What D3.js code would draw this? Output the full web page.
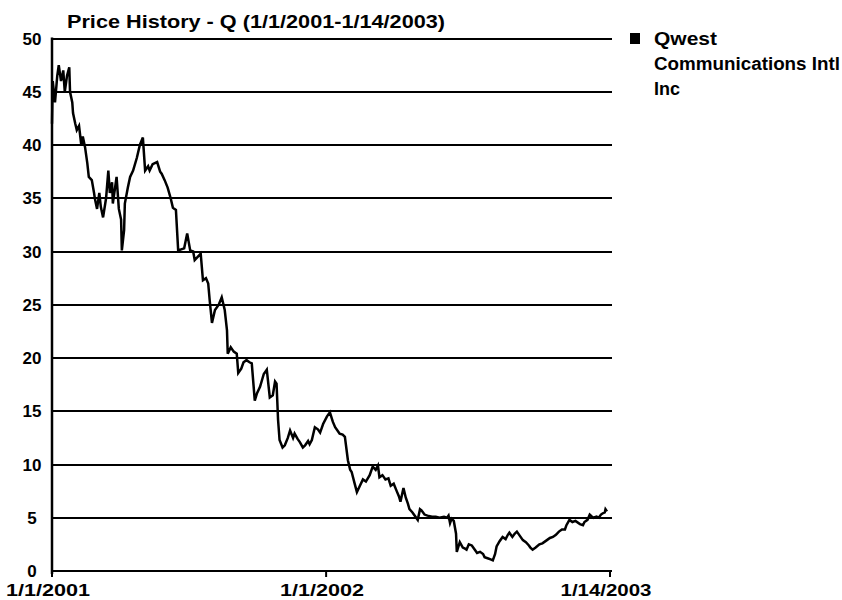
<!DOCTYPE html>
<html lang="en">
<meta charset="utf-8">
<head>
    <title>Price History - Q</title>
    <script src="https://d3js.org/d3.v7.min.js"></script>
    <style type="text/css">
        body {
            margin: 0;
            background-color: white;
        }
        text {
            font-family: "Liberation Sans", Arial, sans-serif;
            font-weight: bold;
            fill: #000;
        }
        .grid line {
            stroke: #000;
            stroke-width: 2;
            shape-rendering: crispEdges;
        }
    </style>
</head>
<body>
<div id="chart"></div>

<script>
// days after 1/1/2001
var dayOffsets = [0, 1, 4, 7, 9, 12, 15, 17, 20, 23, 24, 27, 28, 31, 33, 36, 39, 41, 44, 47,
    49, 53, 56, 57, 60, 63, 65, 68, 72, 75, 77, 80, 81, 84, 86, 89, 92, 93, 96, 97,
    101, 104, 108, 113, 117, 121, 124, 128, 130, 134, 140, 144, 146, 150, 154, 158, 161, 165, 168, 172,
    176, 180, 184, 188, 190, 194, 198, 201, 205, 208, 210, 213, 217, 222, 226, 230, 233, 234, 238, 242,
    246, 248, 252, 255, 259, 263, 266, 270, 273, 277, 282, 286, 290, 294, 297, 299, 301, 303, 307, 310,
    314, 317, 321, 323, 327, 330, 334, 337, 341, 343, 346, 350, 354, 357, 361, 366, 370, 374, 377, 381,
    383, 387, 390, 394, 397, 399, 403, 406, 410, 414, 418, 423, 427, 431, 434, 436, 440, 444, 448, 451,
    455, 459, 462, 464, 468, 471, 474, 476, 480, 484, 487, 490, 492, 496, 500, 506, 511, 516, 522, 526,
    528, 530, 532, 535, 538, 539, 543, 547, 550, 552, 555, 559, 563, 566, 570, 574, 576, 580, 584, 587,
    590, 592, 596, 600, 604, 607, 609, 613, 616, 619, 623, 627, 631, 635, 637, 640, 644, 649, 653, 659,
    663, 667, 671, 675, 679, 683, 685, 689, 693, 697, 703, 707, 709, 713, 716, 719, 721, 725, 728, 731,
    733, 736, 737, 739];

// closing price, dollars
var prices = [42, 46, 44, 46.5, 47.5, 46, 47, 45, 46.5, 47.3, 45, 44, 43, 42, 41.4, 41.8, 40, 40.8, 39.8, 38.3,
    37, 36.7, 35.5, 35, 34, 35.5, 34.2, 33.2, 35, 37.6, 35.5, 36.5, 34.5, 36, 37, 34, 33, 30.1, 32, 34.5,
    36, 37, 37.6, 38.8, 40, 40.7, 37.6, 38, 37.6, 38.2, 38.4, 37.5, 37.3, 36.7, 36, 35, 34.1, 33.9, 30.1, 30.2,
    30.3, 31.7, 30.1, 30, 29.2, 29.5, 29.8, 27.3, 27.5, 27, 25.4, 23.3, 24.5, 25, 25.7, 24.5, 22.6, 20.4, 21, 20.6,
    20.4, 18.6, 19, 19.6, 19.8, 19.6, 19.5, 16, 16.7, 17.3, 18.5, 18.9, 16.3, 16.5, 17.8, 17.6, 14.2, 12.3, 11.6, 11.8,
    12.5, 13.2, 12.5, 12.9, 12.4, 12.1, 11.6, 11.8, 12.2, 11.9, 12.3, 13.5, 13.3, 13, 13.8, 14.5, 14.9, 14, 13.5, 13.1,
    12.9, 12.8, 12.6, 10.4, 9.5, 9.3, 8.2, 7.4, 8, 8.6, 8.4, 9, 9.8, 9.5, 9.9, 8.8, 9, 8.6, 8.7, 8,
    8.2, 7.5, 7, 6.5, 7.8, 6.9, 6.3, 5.8, 5.5, 5.1, 4.8, 5.8, 5.7, 5.3, 5.2, 5.1, 5.1, 5, 5.1, 5,
    5.2, 4.5, 4.9, 4.7, 3.5, 1.8, 2.7, 2.2, 2.1, 2, 2.5, 2.4, 2, 1.7, 1.8, 1.6, 1.3, 1.2, 1.1, 1,
    1.6, 2.3, 2.8, 3.2, 3, 3.4, 3.6, 3.2, 3.5, 3.7, 3.3, 2.9, 2.7, 2.4, 2.2, 2, 2.2, 2.5, 2.6, 2.9,
    3.1, 3.2, 3.4, 3.7, 3.9, 3.9, 4.3, 4.8, 4.6, 4.7, 4.4, 4.3, 4.6, 4.8, 5.3, 5.1, 5, 5.1, 5, 5.3,
    5.4, 5.5, 5.8, 5.6];

var yTicks = [0, 5, 10, 15, 20, 25, 30, 35, 40, 45, 50];
var xTickLabels = ["1/1/2001", "1/1/2002", "1/14/2003"];
var xTickDates = [new Date(2001, 0, 1), new Date(2002, 0, 1), new Date(2003, 0, 14)];
var seriesName = ["Qwest", "Communications Intl", "Inc"];
var chartTitle = "Price History - Q (1/1/2001-1/14/2003)";

//Width and height
var w = 842;
var h = 600;

var svg = d3.select("#chart")
    .append("svg")
    .attr("width", w)
    .attr("height", h);

var start = new Date(2001, 0, 1);
var data = dayOffsets.map(function(d, i) {
    return { date: d3.timeDay.offset(start, d), price: prices[i] };
});

var xScale = d3.scaleTime()
    .domain([start, new Date(2003, 0, 14)])
    .range([52, 610]);

var yScale = d3.scaleLinear()
    .domain([0, 50])
    .range([571, 38.5]);

// horizontal grid lines
svg.append("g")
    .attr("class", "grid")
    .selectAll("line")
    .data(yTicks)
    .enter()
    .append("line")
    .attr("x1", xScale.range()[0])
    .attr("x2", xScale.range()[1] + 2)
    .attr("y1", function(d) { return Math.round(yScale(d)); })
    .attr("y2", function(d) { return Math.round(yScale(d)); })
    .attr("stroke-width", function(d) { return d == 0 ? 3 : 2; });

// left axis line
svg.append("line")
    .attr("x1", 52).attr("x2", 52)
    .attr("y1", yScale(50) - 1)
    .attr("y2", yScale(0) + 3)
    .attr("stroke", "#000")
    .attr("stroke-width", 2.5);

// y labels
svg.selectAll(".ylab")
    .data(yTicks)
    .enter()
    .append("text")
    .attr("class", "ylab")
    .attr("x", 32)
    .attr("y", function(d) { return yScale(d); })
    .attr("dy", "0.36em")
    .attr("text-anchor", "middle")
    .style("font-size", "17px")
    .text(function(d) { return d; });

// x ticks + labels
svg.selectAll(".xtick")
    .data(xTickDates)
    .enter()
    .append("line")
    .attr("class", "xtick")
    .attr("x1", function(d) { return xScale(d); })
    .attr("x2", function(d) { return xScale(d); })
    .attr("y1", yScale(0))
    .attr("y2", yScale(0) + 6)
    .attr("stroke", "#000")
    .attr("stroke-width", 2);

svg.selectAll(".xlab")
    .data(xTickLabels)
    .enter()
    .append("text")
    .attr("class", "xlab")
    .attr("x", function(d, i) { return xScale(xTickDates[i]) - 4; })
    .attr("y", 596)
    .attr("text-anchor", "middle")
    .style("font-size", "16px")
    .attr("textLength", function(d) { return d.length > 8 ? 91 : 84; })
    .attr("lengthAdjust", "spacingAndGlyphs")
    .text(function(d) { return d; });

// price line
var line = d3.line()
    .x(function(d) { return xScale(d.date); })
    .y(function(d) { return yScale(d.price); });

svg.append("path")
    .datum(data)
    .attr("fill", "none")
    .attr("stroke", "#000")
    .attr("stroke-width", 2.5)
    .attr("stroke-linejoin", "miter")
    .attr("d", line);

// title
svg.append("text")
    .attr("x", 67)
    .attr("y", 28)
    .style("font-size", "18px")
    .attr("textLength", 378)
    .attr("lengthAdjust", "spacingAndGlyphs")
    .text(chartTitle);

// legend
svg.append("rect")
    .attr("x", 630)
    .attr("y", 33)
    .attr("width", 10)
    .attr("height", 11)
    .attr("fill", "#000");

var legendLen = [63, 186, 0];
svg.selectAll(".leg")
    .data(seriesName)
    .enter()
    .append("text")
    .attr("class", "leg")
    .attr("x", 654)
    .attr("y", function(d, i) { return 45 + i * 25; })
    .style("font-size", "18px")
    .each(function(d, i) {
        if (legendLen[i] > 0) {
            d3.select(this)
                .attr("textLength", legendLen[i])
                .attr("lengthAdjust", "spacingAndGlyphs");
        }
    })
    .text(function(d) { return d; });
</script>
</body>
</html>
